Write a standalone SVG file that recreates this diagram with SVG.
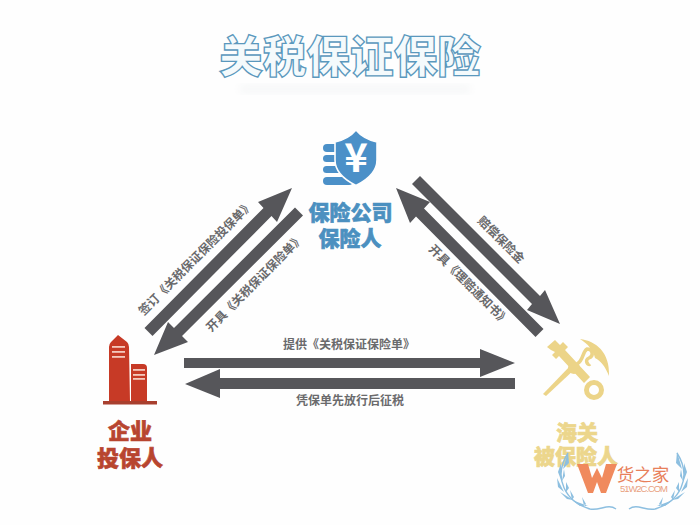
<svg xmlns="http://www.w3.org/2000/svg" width="700" height="525" viewBox="0 0 700 525">
<style>
.t{font-family:"Noto Sans CJK SC","Liberation Sans",sans-serif;text-anchor:middle}
.a{fill:#56565a}
.c{font-size:12px;font-weight:700;fill:#6a6a6c}
.n{font-weight:900;stroke-width:.6}
.leaf{fill:#8dbfe0}
.vine{fill:none;stroke:#8dbfe0;stroke-width:1.4}
</style>
<defs>
<filter id="soft" x="-10%" y="-50%" width="120%" height="200%"><feGaussianBlur stdDeviation="4"/></filter>
<g id="wreath">
<path class="vine" d="M568 453C552 478 566 502 590 509C600 511 608 503 616 509"/>
<path class="leaf" d="M568 452l1 11-6 6zM561 463l-3 9 3 8zM564 469l1 7-3 5zM557 478l1 9 6 5zM566 482l3 6-3 4zM560 492l7 7 6 1zM570 490l4 7-2 3zM572 500l8 6 8 0zM582 497l4 7-2 2z"/>
</g>
</defs>
<rect width="700" height="525" fill="#fefefe"/>
<g id="title">
<rect x="240" y="86" width="230" height="6" fill="#f3f4f5" filter="url(#soft)"/>
<text class="t" x="350" y="73" font-size="44" font-weight="900" textLength="262" lengthAdjust="spacingAndGlyphs" fill="#f4fafc" stroke="#5a98bd" stroke-width="1.300">关税保证保险</text>
</g>
<g id="connectors">
<polygon class="a" points="144.500,328 263.500,208 258,202 292,188 277,222 271.500,216 152.500,336"/>
<polygon class="a" points="295,207.500 174,328 168,322 154,355 188,342 182,336 303,215.500"/>
<polygon class="a" points="543.500,329 424,208.500 430,202 396,188 410,223 416,216.500 535.500,337"/>
<polygon class="a" points="420,176 540,296 545,290 560,324 527,310 532,304 412,184"/>
<polygon class="a" points="184,358 480,358 480,349 515,363 480,377 480,368 184,368"/>
<polygon class="a" points="515,378 220,378 220,369 185,384 220,398 220,389 515,389"/>
<text class="t c" transform="translate(196,258) rotate(-45)" y="4">签订《关税保证保险投保单》</text>
<text class="t c" transform="translate(255,283) rotate(-45)" y="4">开具《关税保证保险单》</text>
<text class="t c" transform="translate(501,240) rotate(45)" y="4">赔偿保险金</text>
<text class="t c" transform="translate(469,285) rotate(45)" y="4">开具《理赔通知书》</text>
<text class="t c" x="349" y="349">提供《关税保证保险单》</text>
<text class="t c" x="350" y="405">凭保单先放行后征税</text>
</g>
<g id="insurer">
<g fill="#4b90c8">
<rect x="323" y="144" width="20" height="8" rx="4"/><rect x="323" y="155" width="20" height="7" rx="3.500"/><rect x="323" y="166" width="20" height="7" rx="3.500"/><rect x="323" y="177" width="30" height="8" rx="4"/>
<path d="M356 130C351 136 344 140 335 142L335 160C335 172 345 180 356 185.500C367 180 377 172 377 160L377 142C368 140 361 136 356 130Z" stroke="#fefefe" stroke-width="1.600"/>
</g>
<text class="t" x="356" y="172" font-size="40" font-weight="700" fill="#fff">¥</text>
<g fill="#4b90c0" stroke="#4b90c0">
<text class="t n" x="350.500" y="220" font-size="21">保险公司</text>
<text class="t n" x="350" y="246" font-size="21">保险人</text>
</g>
</g>
<g id="enterprise">
<g fill="#c73a26">
<path d="M118 335L127 342Q129 344 129 347L130 402L109 402L109 347Q109 344 111 342Z"/>
<path d="M131 364H143Q147 364 147 368V402H131Z"/>
<rect x="103" y="401" width="54" height="3.500" fill="#a83f2e"/>
</g>
<g fill="#f4c9bd"><rect x="112" y="346" width="13" height="1.800"/><rect x="112" y="351" width="13" height="1.800"/><rect x="112" y="356" width="13" height="1.800"/><rect x="133" y="369" width="12" height="1.800"/><rect x="133" y="374" width="12" height="1.800"/><rect x="133" y="378" width="12" height="1.800"/></g>
<g fill="#b8452f" stroke="#b8452f">
<text class="t n" x="130" y="439" font-size="22">企业</text>
<text class="t n" x="130" y="466" font-size="22">投保人</text>
</g>
</g>
<g id="customs">
<g fill="#ecd488">
<polygon points="547,347 555,340 560,345 563,342 568,347 565,350 590,377 584,383 559,356 556,359 552,355 555,352 551,350"/>
<polygon points="543,394 572,364 576,368 546,396"/>
<circle cx="574" cy="368" r="6"/>
<path d="M580 339C596 341 610 352 609 376C605 366 601 361 595 358C593 350 588 344 580 339Z"/>
</g>
<g fill="none" stroke="#ecd488">
<circle cx="594" cy="390" r="7.500" stroke-width="5"/>
<path d="M577 364C584 360 582 352 587 349C593 349 594 356 589 358C584 360 588 366 590 364" stroke-width="3.500"/>
</g>
<g fill="#ecd68c" stroke="#ecd68c">
<text class="t n" x="577" y="440" font-size="21">海关</text>
<text class="t n" x="576" y="464" font-size="21">被保险人</text>
</g>
</g>
<g id="watermark">
<use href="#wreath"/>
<use href="#wreath" transform="translate(1245,0) scale(-1,1)"/>
<polygon points="577,464 588,464 592,478 597,468 602,478 606,464 617,464 606,493 601,493 597,482 593,493 588,493" fill="#f08a5d"/>
<text class="t" x="643" y="481" font-size="17.500" fill="#e8805a">货之家</text>
<text x="620" y="492" font-family="Liberation Sans,sans-serif" font-size="9.500" textLength="48" fill="#e9a080">51W2C.COM</text>
</g>
</svg>
